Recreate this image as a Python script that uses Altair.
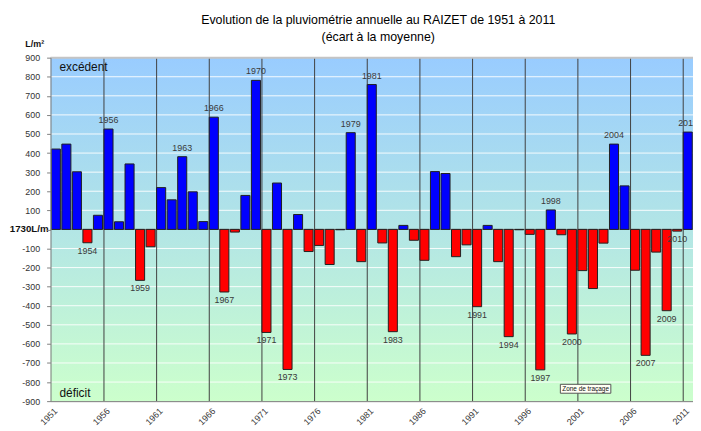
import altair as alt
import pandas as pd

FONT = "Liberation Sans"

years = list(range(1951, 2012))
values = [
    421, 447, 302, -70, 74, 526, 40, 343, -267, -91,
    219, 155, 381, 197, 41, 588, -328, -14, 178, 781,
    -540, 243, -734, 78, -116, -84, -184, -2, 507, -169,
    759, -71, -536, 21, -57, -162, 303, 293, -143, -81,
    -405, 21, -169, -562, -2, -26, -736, 102, -28, -548,
    -216, -310, -72, 447, 228, -214, -660, -119, -426, -9,
    510,
]
labeled_years = [1954, 1956, 1959, 1963, 1966, 1967, 1970, 1971, 1973, 1979,
                 1981, 1983, 1991, 1994, 1997, 1998, 2000, 2004, 2007, 2009,
                 2010, 2011]
tick_years = list(range(1951, 2012, 5))
grid_years = tick_years[1:]
y_ticks = list(range(-900, 901, 100))
hgrid_values = [v for v in range(-800, 900, 100) if v != 0]
title_lines = ["Evolution de la pluviométrie annuelle au RAIZET de 1951 à 2011",
               "(écart à la moyenne)"]

df = pd.DataFrame({"year": years, "value": values})
df["label"] = [str(y) if y in labeled_years else "" for y in years]

W, H = 649, 347

x_scale = alt.Scale(domain=years, paddingInner=0.14, paddingOuter=0.07)
y_scale = alt.Scale(domain=[-900, 900], nice=False, zero=False)

x_axis = alt.Axis(values=tick_years, bandPosition=0, labelAngle=-45,
                  labelAlign="right", labelBaseline="middle",
                  labelFontSize=9, labelColor="#333333", ticks=False,
                  domainColor="#808080", grid=False, labelPadding=8,
                  zindex=1, labelFont=FONT, labelOverlap=False, title=None)
y_axis = alt.Axis(values=y_ticks,
                  labelExpr="datum.value == 0 ? '' : '' + datum.value",
                  labelFontSize=9, labelColor="#333333",
                  tickColor="#808080", tickSize=4,
                  domainColor="#808080", grid=False, labelPadding=7,
                  zindex=1, labelFont=FONT, title=None)


def X(field):
    return alt.X(field, scale=x_scale, axis=x_axis)


def Y(field):
    return alt.Y(field, scale=y_scale, axis=y_axis)


one = pd.DataFrame({"a": [0]})

bg = alt.Chart(one).mark_rect(
    color=alt.Gradient(
        gradient="linear",
        stops=[alt.GradientStop(color="#99CCFF", offset=0),
               alt.GradientStop(color="#CCFFCC", offset=1)],
        x1=0, x2=0, y1=0, y2=1,
    )
).encode(x=alt.value(0), x2=alt.value(W), y=alt.value(0), y2=alt.value(H))

hgrid = alt.Chart(pd.DataFrame({"value": hgrid_values})).mark_rule(
    color="#FFFFFF", strokeWidth=1, opacity=0.9
).encode(y=Y("value:Q"))

vgrid = alt.Chart(pd.DataFrame({"year": grid_years})).mark_rule(
    color="#404040", strokeWidth=1
).encode(x=alt.X("year:O", scale=x_scale, axis=x_axis, bandPosition=0))

top_border = alt.Chart(pd.DataFrame({"value": [900]})).mark_rule(
    color="#C4C4C4", strokeWidth=2
).encode(y=Y("value:Q"))

zero_line = alt.Chart(pd.DataFrame({"value": [0]})).mark_rule(
    color="#808080", strokeWidth=1
).encode(y=Y("value:Q"))

bars = alt.Chart(df).mark_bar(stroke="#202020", strokeWidth=1).encode(
    x=X("year:O"),
    y=Y("value:Q"),
    color=alt.condition(alt.datum.value > 0, alt.value("#0000FF"),
                        alt.value("#FF0000")),
)

pos_labels = alt.Chart(df).transform_filter(
    (alt.datum.label != "") & (alt.datum.value > 0)
).mark_text(baseline="bottom", dy=-4, fontSize=9, color="#3A3A3A",
            font=FONT).encode(x=X("year:O"), y=Y("value:Q"), text="label:N")

neg_labels = alt.Chart(df).transform_filter(
    (alt.datum.label != "") & (alt.datum.value < 0)
).mark_text(baseline="top", dy=4, fontSize=9, color="#3A3A3A",
            font=FONT).encode(x=X("year:O"), y=Y("value:Q"), text="label:N")

notes = pd.DataFrame({"txt": ["excédent", "déficit"], "value": [850, -855]})
zone_text = alt.Chart(notes).mark_text(
    align="left", baseline="middle", fontSize=12, color="#111111", font=FONT
).encode(x=alt.value(9), y=Y("value:Q"), text="txt:N")

unit = alt.Chart(one).mark_text(
    align="center", baseline="middle", fontSize=9, fontWeight="bold",
    color="#111111", font=FONT
).encode(x=alt.value(-16), y=alt.value(-14), text=alt.value("L/m²"))

mean_lbl = alt.Chart(pd.DataFrame({"value": [0]})).mark_text(
    align="right", baseline="middle", fontSize=9.8, fontWeight="bold",
    color="#111111", font=FONT
).encode(x=alt.value(-2), y=Y("value:Q"), text=alt.value("1730L/m"))

title1 = alt.Chart(one).mark_text(
    align="center", baseline="middle", fontSize=12.5, color="#000000", font=FONT
).encode(x=alt.value(331), y=alt.value(-38), text=alt.value(title_lines[0]))

title2 = alt.Chart(one).mark_text(
    align="center", baseline="middle", fontSize=12.5, color="#000000", font=FONT
).encode(x=alt.value(331), y=alt.value(-21), text=alt.value(title_lines[1]))

tip_box = alt.Chart(one).mark_rect(
    fill="#FFFFF4", stroke="#555555", strokeWidth=1
).encode(x=alt.value(515), x2=alt.value(566), y=alt.value(330), y2=alt.value(339))

tip_text = alt.Chart(one).mark_text(
    align="center", baseline="middle", fontSize=6.5, color="#111111", font=FONT
).encode(x=alt.value(540.5), y=alt.value(334.5), text=alt.value("Zone de traçage"))

chart = alt.layer(
    bg, hgrid, vgrid, top_border, zero_line, bars, pos_labels, neg_labels,
    zone_text, unit, mean_lbl, title1, title2, tip_box, tip_text
).properties(
    width=W, height=H,
    autosize=alt.AutoSizeParams(type="none"),
    padding={"left": 43, "top": 48, "right": 0, "bottom": 28},
).configure_view(stroke=None).configure(background="white")

chart.save("out.html", embed_options={"renderer": "svg", "actions": False})
